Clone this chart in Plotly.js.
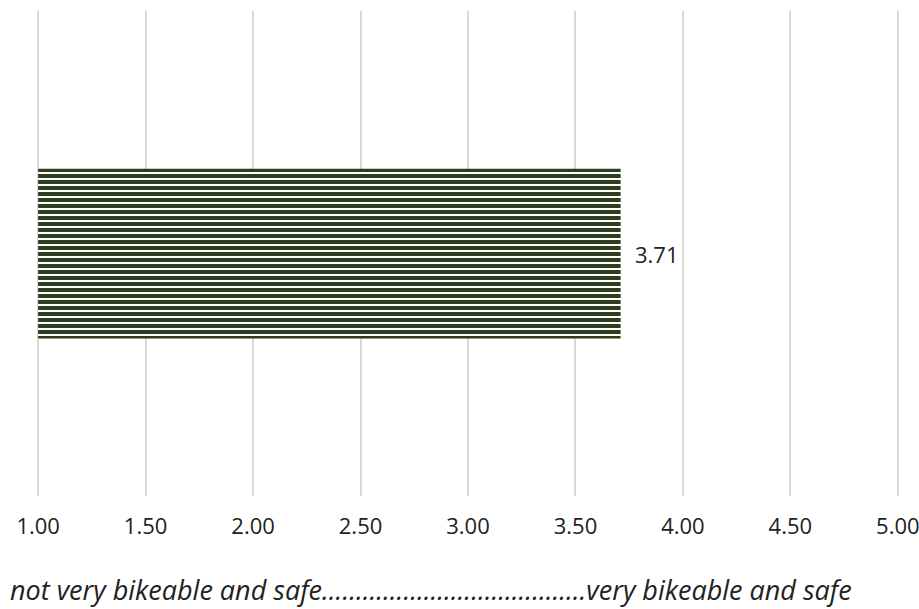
<!DOCTYPE html>
<html>
<head>
<meta charset="utf-8">
<script src="https://cdn.plot.ly/plotly-3.0.1.min.js"></script>
<style>html,body{margin:0;padding:0;background:#fff;}#chart{width:919px;height:609px;}</style>
</head>
<body>
<div id="chart"></div>
<script>
// Data
const categories = ['Bikeability and safety'];
const values = [3.71];
const valueLabels = ['3.71'];
const tickValues = [1.0, 1.5, 2.0, 2.5, 3.0, 3.5, 4.0, 4.5, 5.0];
const tickLabels = ['1.00', '1.50', '2.00', '2.50', '3.00', '3.50', '4.00', '4.50', '5.00'];
const axisCaption = 'not very bikeable and safe.......................................very bikeable and safe';

const barColor = '#2d3e1e';
const fontFamily = '"Open Sans", "Noto Sans", sans-serif';
const axisMin = 1, axisMax = 5;

const trace = {
  type: 'bar',
  orientation: 'h',
  x: values.map(v => v - axisMin),
  y: categories,
  base: axisMin,
  width: 0.35,
  marker: {
    color: barColor,
    line: {width: 0},
    pattern: {shape: '-', size: 6, solidity: 0.67, fillmode: 'replace', bgcolor: '#ffffff', fgcolor: barColor}
  },
  hoverinfo: 'none'
};

const layout = {
  width: 919,
  height: 609,
  margin: {l: 36, r: 19, t: 11, b: 113},
  paper_bgcolor: '#ffffff',
  plot_bgcolor: '#ffffff',
  showlegend: false,
  font: {family: fontFamily, size: 22, color: '#222222'},
  xaxis: {
    range: [axisMin - 0.01, axisMax + 0.01],
    tickvals: tickValues,
    ticktext: tickLabels,
    showgrid: true,
    gridcolor: '#d9d9d9',
    gridwidth: 2,
    zeroline: false,
    showline: false,
    ticks: 'outside',
    ticklen: 11,
    tickcolor: 'rgba(0,0,0,0)',
    ticklabeloverflow: 'allow',
    tickfont: {family: fontFamily, size: 22, color: '#222222'},
    fixedrange: true
  },
  yaxis: {
    showticklabels: false,
    showgrid: false,
    zeroline: false,
    showline: false,
    range: [-0.5, 0.5],
    fixedrange: true
  },
  annotations: [
    {
      x: values[0], y: categories[0], xref: 'x', yref: 'y',
      text: valueLabels[0], showarrow: false,
      xanchor: 'left', xshift: 12,
      font: {family: fontFamily, size: 22, color: '#222222'}
    },
    {
      x: -28 / 864, y: -93 / 485, xref: 'paper', yref: 'paper',
      text: '<i>' + axisCaption + '</i>', showarrow: false,
      xanchor: 'left', yanchor: 'middle',
      font: {family: fontFamily, size: 27, color: '#222222'}
    }
  ]
};

Plotly.newPlot('chart', [trace], layout, {displayModeBar: false, staticPlot: true});
</script>
</body>
</html>
